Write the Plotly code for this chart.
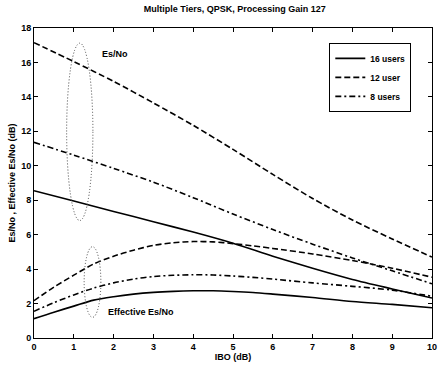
import plotly.graph_objects as go

# ---- data ----
X_ESNO = [0, 1, 2, 3, 4, 5, 6, 7, 8, 9, 10]
ESNO_16 = [8.55, 7.95, 7.35, 6.75, 6.15, 5.5, 4.75, 4.05, 3.4, 2.85, 2.32]
ESNO_12 = [17.15, 16.05, 14.9, 13.65, 12.35, 10.95, 9.5, 8.1, 6.85, 5.75, 4.7]
ESNO_8 = [11.36, 10.62, 9.85, 9.05, 8.15, 7.2, 6.3, 5.45, 4.65, 3.9, 3.15]

X_EFF = [0, 0.5, 1, 1.5, 2, 2.5, 3, 3.5, 4, 4.5, 5, 5.5, 6, 7, 8, 9, 10]
EFF_16 = [1.12, 1.5, 1.85, 2.2, 2.4, 2.55, 2.65, 2.71, 2.74, 2.74, 2.7, 2.64, 2.55, 2.35, 2.12, 1.95, 1.76]
EFF_12 = [2.17, 2.95, 3.65, 4.3, 4.75, 5.1, 5.38, 5.53, 5.6, 5.58, 5.48, 5.35, 5.2, 4.88, 4.5, 4.05, 3.53]
EFF_8 = [1.55, 2.05, 2.5, 2.9, 3.2, 3.42, 3.57, 3.64, 3.67, 3.66, 3.6, 3.52, 3.42, 3.2, 3.0, 2.78, 2.42]

LABELS = ["16 users", "12 user", "8 users"]
X_TICKS = list(range(0, 11))
Y_TICKS = list(range(0, 19, 2))

TITLE = "Multiple Tiers, QPSK, Processing Gain 127"
X_TITLE = "IBO (dB)"
Y_TITLE = "Es/No , Effective Es/No (dB)"

# ellipses (center x, center y, half width, half height)
ELL_UPPER = (1.15, 11.97, 0.33, 5.15)
ELL_LOWER = (1.47, 3.25, 0.21, 2.05)

FONT = "Liberation Sans, Arial, sans-serif"
DASH_12 = "6px,3px"
DASH_8 = "6px,3px,2px,3px"
LW = 1.6

fig = go.Figure()
styles = [("solid", ESNO_16, EFF_16), (DASH_12, ESNO_12, EFF_12), (DASH_8, ESNO_8, EFF_8)]
for (dash, es, ef), name in zip(styles, LABELS):
    fig.add_trace(go.Scatter(x=X_ESNO, y=es, mode="lines", name=name,
                             line=dict(color="black", width=LW, dash=dash, shape="spline", smoothing=0.8),
                             legendgroup=name))
    fig.add_trace(go.Scatter(x=X_EFF, y=ef, mode="lines", name=name, showlegend=False,
                             line=dict(color="black", width=LW, dash=dash, shape="spline", smoothing=0.8),
                             legendgroup=name))

for cx, cy, hw, hh in (ELL_UPPER, ELL_LOWER):
    fig.add_shape(type="circle", xref="x", yref="y", x0=cx - hw, x1=cx + hw, y0=cy - hh, y1=cy + hh,
                  line=dict(color="#444", width=1, dash="1px,2px"))

fig.add_annotation(x=1.65, y=16.5, text="<b>Es/No</b>", showarrow=False, xanchor="left",
                   font=dict(family=FONT, size=9, color="black"))
fig.add_annotation(x=1.8, y=1.53, text="<b>Effective Es/No</b>", showarrow=False, xanchor="left",
                   font=dict(family=FONT, size=9, color="black"))

axis_common = dict(showgrid=False, zeroline=False, showline=True, linecolor="black", linewidth=1,
                   mirror="ticks", ticks="inside", ticklen=4, tickcolor="black",
                   tickfont=dict(family=FONT, size=9, color="black", weight="bold"))

fig.update_layout(
    width=443, height=366,
    margin=dict(l=34, r=6, t=28, b=28),
    paper_bgcolor="white", plot_bgcolor="white",
    title=dict(text="<b>" + TITLE + "</b>", x=0.53, xanchor="center", y=0.985, yanchor="top",
               font=dict(family=FONT, size=9, color="black")),
    xaxis=dict(range=[0, 10], tickvals=X_TICKS,
               title=dict(text="<b>" + X_TITLE + "</b>", font=dict(family=FONT, size=9, color="black"), standoff=2),
               **axis_common),
    yaxis=dict(range=[0, 18], tickvals=Y_TICKS,
               title=dict(text="<b>" + Y_TITLE + "</b>", font=dict(family=FONT, size=9, color="black"), standoff=4),
               **axis_common),
    legend=dict(x=0.948, xanchor="right", y=0.952, yanchor="top", bordercolor="black", borderwidth=1,
                bgcolor="white", font=dict(family=FONT, size=8.5, color="black", weight="bold"),
                tracegroupgap=0, itemwidth=30),
    showlegend=True,
)

fig.write_html("out.html")
